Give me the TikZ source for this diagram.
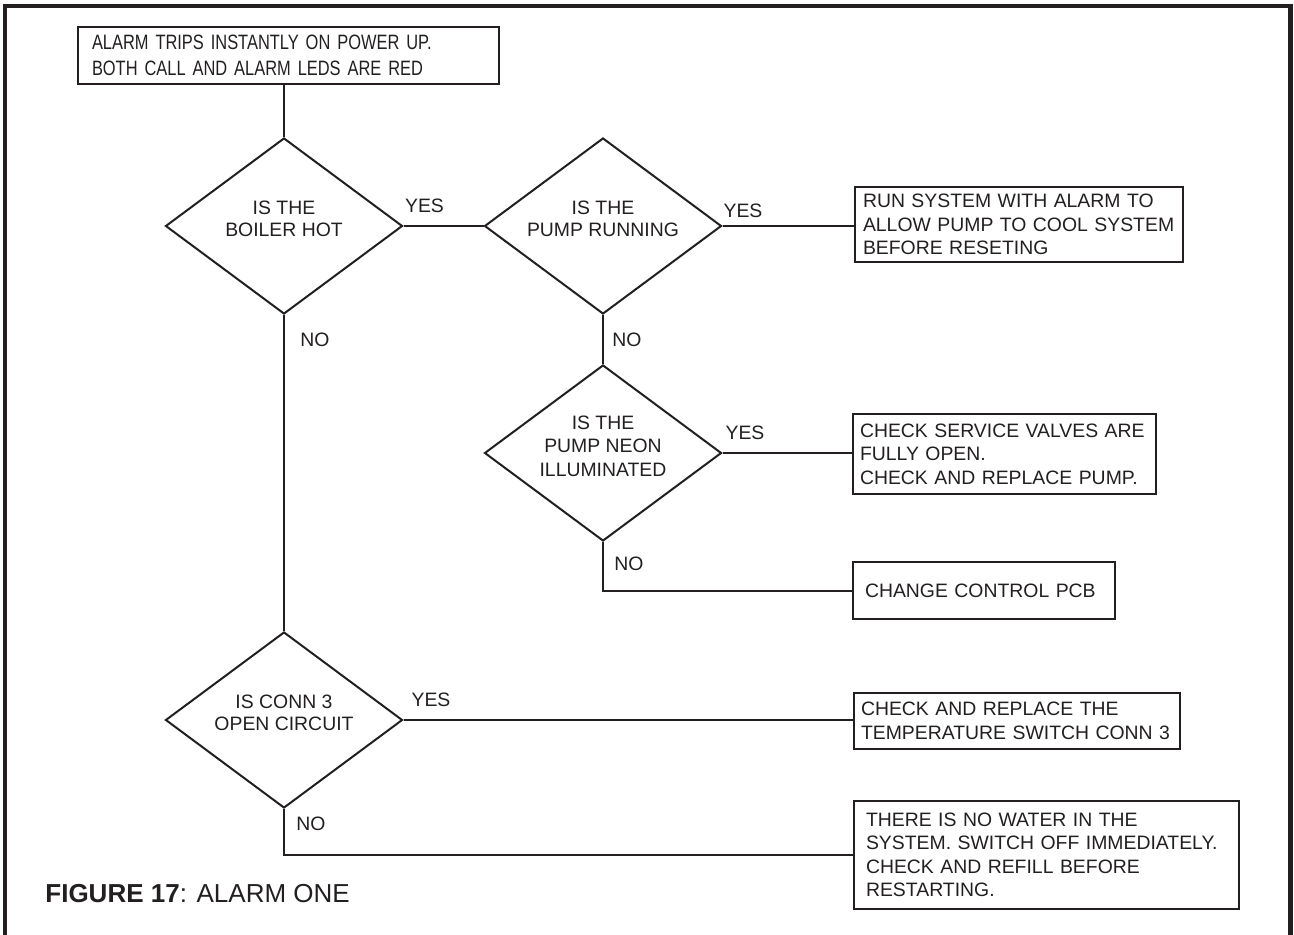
\documentclass[tikz,border=0pt]{standalone}
\usepackage{fontspec}
\setmainfont{Liberation Sans}
\newfontfamily\narrowfont[FakeStretch=0.79]{Liberation Sans}
\usepackage{xcolor}
\usepackage{tikz}
\usetikzlibrary{calc}
\usetikzlibrary{positioning}
\usetikzlibrary{shapes.geometric}
\definecolor{ink}{HTML}{231F20}
\tikzstyle{decide} = [diamond, draw=ink, line width=1pt, aspect=1.35, inner sep=0pt, minimum width=118.5pt, minimum height=88pt, align=center, text depth=7pt, text=ink, font=\fontsize{9.7}{11}\selectfont]
\tikzstyle{action} = [rectangle, draw=ink, line width=1pt, align=left, inner ysep=0pt, text=ink, font=\fontsize{9.7}{11.75}\selectfont]
\tikzstyle{answer} = [inner sep=0pt, text=ink, font=\fontsize{9.7}{11.75}\selectfont]
\tikzstyle{link} = [-, draw=ink, line width=1pt]

\begin{document}
\begin{tikzpicture}[x=0.5pt, y=-0.5pt]
\useasboundingbox (0, 0) rectangle (1294, 935);
% frame
\draw [draw=ink, line width=2.25pt] (5, 935) -- (5, 6) -- (1290.5, 6) -- (1290.5, 935);

\node [action, text width=196.5pt, inner xsep=7pt, minimum height=28.5pt, font=\narrowfont\fontsize{10.4}{13}\selectfont] (start) at (288.5, 55.5) {ALARM TRIPS INSTANTLY ON POWER UP.\\BOTH CALL AND ALARM LEDS ARE RED};

\node [decide] (hot) at (284, 226) {IS THE\\BOILER HOT};
\node [decide] (run) at (603, 226) {IS THE\\PUMP RUNNING};
\node [decide, font=\fontsize{9.7}{11.75}\selectfont] (neon) at (603, 453) {IS THE\\PUMP NEON\\ILLUMINATED};
\node [decide] (conn) at (284, 720) {IS CONN 3\\OPEN CIRCUIT};

\node [action, text width=156pt, inner xsep=4pt, minimum height=37.5pt] (cool) at (1019, 224.5) {RUN SYSTEM WITH ALARM TO\\ALLOW PUMP TO COOL SYSTEM\\BEFORE RESETING};
\node [action, text width=144.5pt, inner xsep=3.5pt, minimum height=40pt] (valve) at (1004.5, 454) {CHECK SERVICE VALVES ARE\\FULLY OPEN.\\CHECK AND REPLACE PUMP.};
\node [action, text width=119pt, inner xsep=6pt, minimum height=28.5pt] (pcb) at (984, 590.5) {CHANGE CONTROL PCB};
\node [action, text width=156pt, inner xsep=3.5pt, minimum height=28pt] (temp) at (1017, 721) {CHECK AND REPLACE THE\\TEMPERATURE SWITCH CONN 3};
\node [action, text width=180.5pt, inner xsep=6pt, minimum height=54pt] (water) at (1046.5, 855) {THERE IS NO WATER IN THE\\SYSTEM. SWITCH OFF IMMEDIATELY.\\CHECK AND REFILL BEFORE\\RESTARTING.};

\node [answer] (yes1) at (424.5, 206) {YES};
\node [answer] (yes2) at (743, 211) {YES};
\node [answer] (yes3) at (745, 432.5) {YES};
\node [answer] (yes4) at (431, 700) {YES};
\node [answer] (no1) at (315, 340) {NO};
\node [answer] (no2) at (627, 340) {NO};
\node [answer] (no3) at (629, 563.5) {NO};
\node [answer] (no4) at (311, 823.5) {NO};

\node [anchor=base west, inner sep=0pt, text=ink, font=\fontsize{13}{15}\selectfont] (caption) at (45, 902) {\textbf{FIGURE 17}: ALARM ONE};

\draw [link] (hot.north |- start.south) -- (hot.north);
\draw [link] (hot.east) -- (run.west);
\draw [link] (run.east) -- (run.east -| cool.west);
\draw [link] (run.south) -- (neon.north);
\draw [link] (neon.east) -- (neon.east -| valve.west);
\draw [link] (neon.south) |- (pcb.west);
\draw [link] (hot.south) -- (conn.north);
\draw [link] (conn.east) -- (conn.east -| temp.west);
\draw [link] (conn.south) |- (water.west);
\end{tikzpicture}
\end{document}
